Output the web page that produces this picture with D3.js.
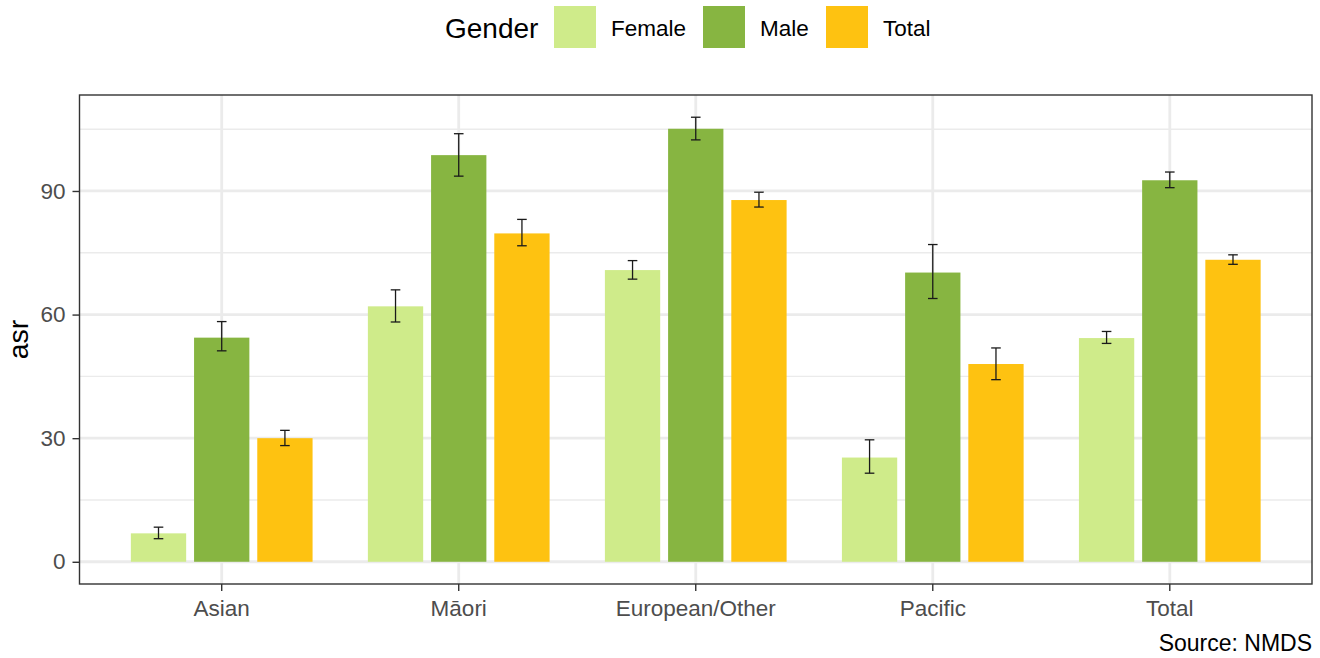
<!DOCTYPE html>
<html>
<head>
<meta charset="utf-8">
<script src="https://cdn.jsdelivr.net/npm/d3@7"></script>
<style>
  html, body { margin: 0; padding: 0; background: #fff; }
  svg { display: block; font-family: "Liberation Sans", Arial, sans-serif; }
</style>
</head>
<body>
<svg id="chart" width="1320" height="658"></svg>
<script>
// Ethnic groups along the x axis
const categories = ["Asian", "Māori", "European/Other", "Pacific", "Total"];
// Gender groups (dodged bars)
const genders = ["Female", "Male", "Total"];
const genderColors = ["#cfeb8a", "#87b541", "#fec211"];

// Age-standardised rates with lower / upper confidence limits
const female   = [6.9, 62.0, 70.8, 25.3, 54.3];
const femaleLo = [5.6, 58.2, 68.6, 21.5, 53.0];
const femaleHi = [8.4, 66.0, 73.1, 29.6, 55.9];

const male   = [54.4, 98.7, 105.1, 70.2, 92.6];
const maleLo = [51.2, 93.6, 102.4, 63.9, 90.8];
const maleHi = [58.3, 103.9, 107.9, 77.0, 94.6];

const total   = [30.0, 79.7, 87.8, 48.0, 73.3];
const totalLo = [28.2, 76.7, 86.1, 44.2, 72.2];
const totalHi = [31.9, 83.1, 89.7, 51.9, 74.5];

const yTicks = [0, 30, 60, 90];
const yMinorTicks = [15, 45, 75, 105];

// Long-format rows built from the arrays above
const seriesVals = [female, male, total];
const seriesLo = [femaleLo, maleLo, totalLo];
const seriesHi = [femaleHi, maleHi, totalHi];
const rows = [];
categories.forEach((c, i) => {
  genders.forEach((g, j) => {
    rows.push({ cat: c, gender: g, value: seriesVals[j][i], lo: seriesLo[j][i], hi: seriesHi[j][i] });
  });
});

const svg = d3.select("#chart");
const panel = { left: 79.5, right: 1312, top: 95, bottom: 584 };

// Discrete x: each category occupies one unit, with 0.6 units padding at each end
const x = d3.scaleBand()
  .domain(categories)
  .range([panel.left, panel.right])
  .paddingInner(0)
  .paddingOuter(0.1);
const unit = x.bandwidth();
const cx = c => x(c) + unit / 2;

// Dodge within a total width of 0.8 units
const dodgeWidth = 0.8 * unit;
const xg = d3.scaleBand().domain(genders).range([-dodgeWidth / 2, dodgeWidth / 2]).paddingInner(0.125).paddingOuter(0.0625);

// Continuous y with 5% expansion on both ends
const yMax = d3.max(rows, d => d.hi);
const pad = yMax * 0.05;
const y = d3.scaleLinear().domain([-pad, yMax + pad]).range([panel.bottom, panel.top]);

const color = d3.scaleOrdinal().domain(genders).range(genderColors);

// Panel background
svg.append("rect")
  .attr("x", panel.left).attr("y", panel.top)
  .attr("width", panel.right - panel.left).attr("height", panel.bottom - panel.top)
  .attr("fill", "#fff");

// Grid lines
const grid = svg.append("g");
grid.selectAll(".minor").data(yMinorTicks).join("line")
  .attr("x1", panel.left).attr("x2", panel.right)
  .attr("y1", d => y(d)).attr("y2", d => y(d))
  .attr("stroke", "#ebebeb").attr("stroke-width", 1.4);
grid.selectAll(".major").data(yTicks).join("line")
  .attr("x1", panel.left).attr("x2", panel.right)
  .attr("y1", d => y(d)).attr("y2", d => y(d))
  .attr("stroke", "#ebebeb").attr("stroke-width", 2.8);
grid.selectAll(".vmajor").data(categories).join("line")
  .attr("x1", d => cx(d)).attr("x2", d => cx(d))
  .attr("y1", panel.top).attr("y2", panel.bottom)
  .attr("stroke", "#ebebeb").attr("stroke-width", 2.8);

// Bars
const barW = xg.bandwidth();
svg.append("g").selectAll("rect").data(rows).join("rect")
  .attr("x", d => cx(d.cat) + xg(d.gender))
  .attr("width", barW)
  .attr("y", d => y(d.value))
  .attr("height", d => y(0) - y(d.value))
  .attr("fill", d => color(d.gender));

// Error bars
const capHalf = 4.8;
const eb = svg.append("g").attr("stroke", "#1a1a1a").attr("stroke-width", 1.3).attr("fill", "none");
rows.forEach(d => {
  const xc = cx(d.cat) + xg(d.gender) + barW / 2;
  eb.append("line").attr("x1", xc).attr("x2", xc).attr("y1", y(d.lo)).attr("y2", y(d.hi));
  eb.append("line").attr("x1", xc - capHalf).attr("x2", xc + capHalf).attr("y1", y(d.lo)).attr("y2", y(d.lo));
  eb.append("line").attr("x1", xc - capHalf).attr("x2", xc + capHalf).attr("y1", y(d.hi)).attr("y2", y(d.hi));
});

// Panel border
svg.append("rect")
  .attr("x", panel.left).attr("y", panel.top)
  .attr("width", panel.right - panel.left).attr("height", panel.bottom - panel.top)
  .attr("fill", "none").attr("stroke", "#333333").attr("stroke-width", 1.4);

// Axes
const xAxis = svg.append("g")
  .attr("transform", `translate(0,${panel.bottom})`)
  .call(d3.axisBottom(x).tickSize(7).tickPadding(9));
const yAxis = svg.append("g")
  .attr("transform", `translate(${panel.left},0)`)
  .call(d3.axisLeft(y).tickValues(yTicks).tickSize(7).tickPadding(7));
[xAxis, yAxis].forEach(a => {
  a.select(".domain").remove();
  a.selectAll(".tick line").attr("stroke", "#333333").attr("stroke-width", 1.4);
  a.selectAll(".tick text").attr("fill", "#4d4d4d").attr("font-size", 22.5)
    .attr("font-family", "Liberation Sans, Arial, sans-serif");
});

// Axis title
svg.append("text")
  .attr("transform", `translate(28,${(panel.top + panel.bottom) / 2}) rotate(-90)`)
  .attr("text-anchor", "middle")
  .attr("font-size", 28.5)
  .attr("fill", "#000")
  .text("asr");

// Legend
const legend = svg.append("g");
legend.append("text")
  .attr("x", 445).attr("y", 37.5)
  .attr("font-size", 28)
  .attr("fill", "#000")
  .text("Gender");
const keyX = [554, 703, 826];
genders.forEach((g, i) => {
  legend.append("rect")
    .attr("x", keyX[i]).attr("y", 6)
    .attr("width", 42).attr("height", 42)
    .attr("fill", color(g));
  legend.append("text")
    .attr("x", keyX[i] + 57).attr("y", 36)
    .attr("font-size", 22.5)
    .attr("fill", "#000")
    .text(g);
});

// Caption
svg.append("text")
  .attr("x", 1312).attr("y", 651)
  .attr("text-anchor", "end")
  .attr("font-size", 23)
  .attr("fill", "#000")
  .text("Source: NMDS");
</script>
</body>
</html>
